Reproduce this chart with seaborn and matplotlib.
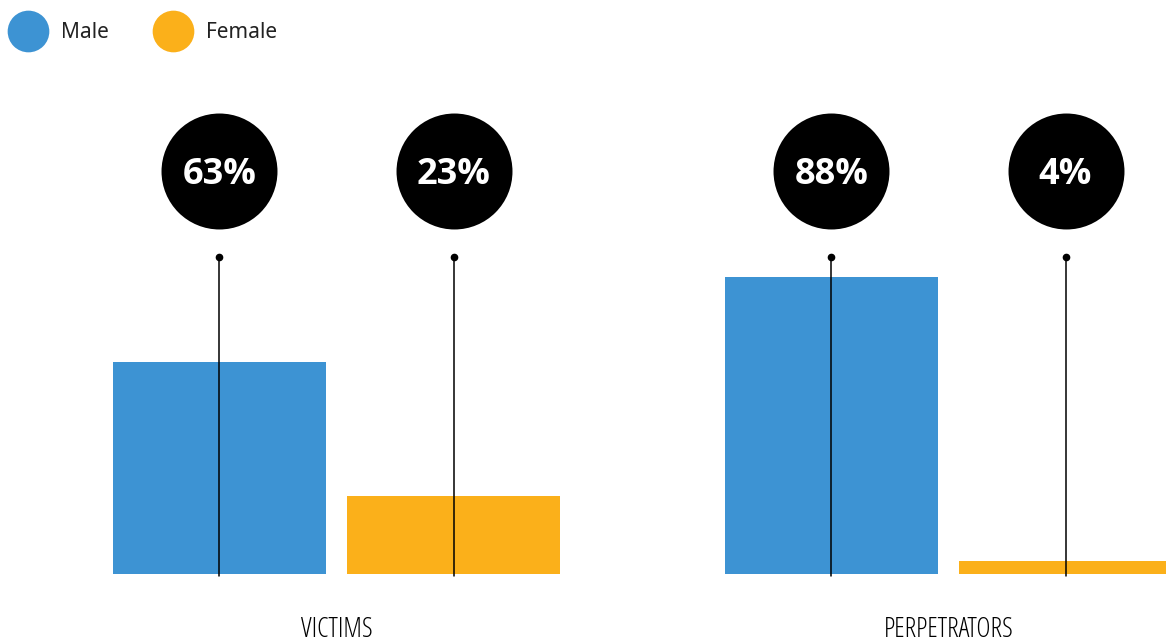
import matplotlib
matplotlib.use("Agg")
import matplotlib.pyplot as plt
from matplotlib.lines import Line2D
import pandas as pd
import seaborn as sns

# Share of victims and perpetrators by sex (%)
groups = ["VICTIMS", "PERPETRATORS"]
sexes = ["Male", "Female"]
victims = [63, 23]
perpetrators = [88, 4]

BLUE = "#3D93D3"
ORANGE = "#FBB01A"

df = pd.DataFrame({
    "group": [g for g in groups for _ in sexes],
    "sex": sexes * len(groups),
    "pct": victims + perpetrators,
})

sns.set_theme(style="white")
plt.rcParams["font.family"] = ["Noto Sans", "DejaVu Sans"]

fig = plt.figure(figsize=(11.66, 6.42), dpi=100)
ax = fig.add_axes([0, 68 / 642, 1, 574 / 642])

sns.barplot(
    data=df, x="group", y="pct", hue="sex", order=groups, hue_order=sexes,
    palette=[BLUE, ORANGE], saturation=1, width=0.765, gap=0.09,
    linewidth=0, legend=False, ax=ax,
)

px_per_pct = 3.37
ax.set_ylim(0, 574 / px_per_pct)
ax.set_xlim(-0.5498, 1.3554)
for s in ax.spines.values():
    s.set_visible(False)
ax.set_xlabel("")
ax.set_ylabel("")
ax.set_yticks([])
ax.tick_params(axis="x", length=0, pad=30)
for lab in ax.get_xticklabels():
    lab.set_fontfamily(["Open Sans", "DejaVu Sans"])
    lab.set_fontstretch("condensed")
    lab.set_fontsize(19.5)
    lab.set_color("#000000")

circle_y = (574 - 171) / px_per_pct
stem_top = (574 - 257) / px_per_pct
stem_bottom = -2 / px_per_pct

for container in ax.containers:
    for bar in container:
        xc = bar.get_x() + bar.get_width() / 2
        val = bar.get_height()
        ax.plot([xc, xc], [stem_bottom, stem_top], color="black", lw=1.1,
                clip_on=False, zorder=4)
        ax.plot([xc], [stem_top], marker="o", color="black", markersize=4.5,
                clip_on=False, zorder=5)
        ax.scatter([xc], [circle_y], s=83.5 ** 2, color="black",
                   clip_on=False, zorder=5, linewidths=0)
        ax.text(xc, circle_y, f"{val:.0f}%", color="white", fontsize=26,
                family=["Open Sans", "DejaVu Sans"], fontweight="bold",
                ha="center", va="center_baseline", zorder=6)

handles = [
    Line2D([], [], marker="o", linestyle="", markersize=30,
           markerfacecolor=c, markeredgewidth=0)
    for c in (BLUE, ORANGE)
]
fig.legend(
    handles, sexes, loc="upper left", bbox_to_anchor=(0, 1 - 22 / 642),
    ncol=2, frameon=False, fontsize=15, borderpad=0, borderaxespad=0,
    handlelength=2.7, handletextpad=0.24, columnspacing=1.73,
    labelcolor="#222222",
)

fig.savefig("out.png", dpi=100, facecolor="white")
